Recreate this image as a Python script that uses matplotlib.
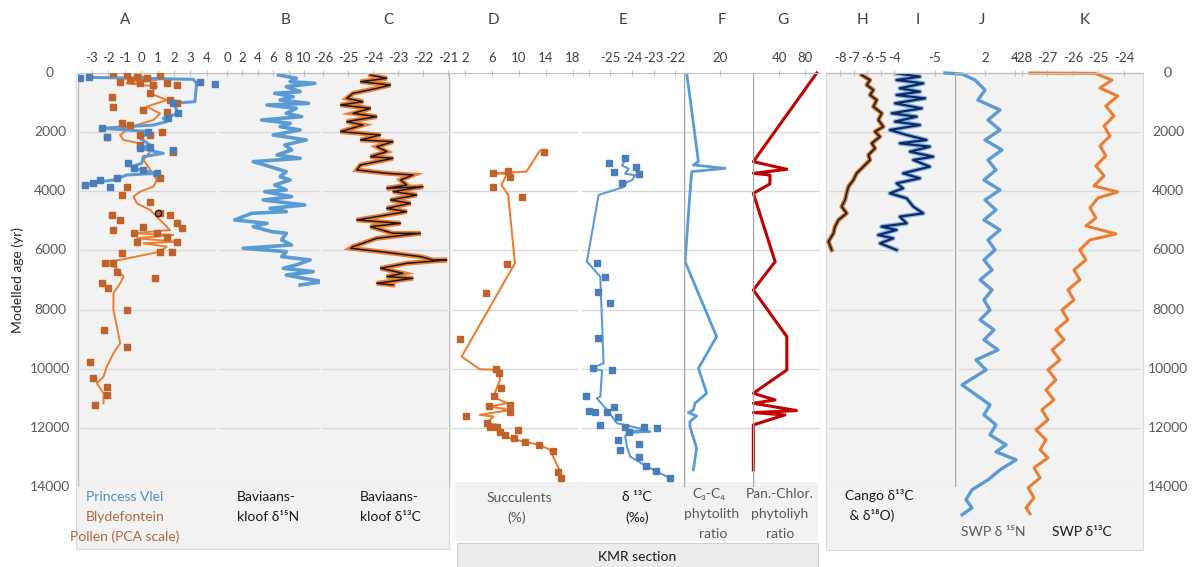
import matplotlib
matplotlib.use("Agg")
import matplotlib.pyplot as plt
from matplotlib.patches import Rectangle

plt.rcParams['font.family'] = ['Lato', 'DejaVu Sans']
plt.rcParams['axes.unicode_minus'] = False

# ---- A: Princess Vlei / Blydefontein pollen (PCA scale) ----
pv_line_age = [147, 214, 349, 969, 1026, 1364, 1533, 1645, 1758, 1871, 1927, 1984, 2209, 2434,
               2547, 2716, 2829, 3054, 3167, 3280, 3392, 3449, 3618, 3674, 3787]
pv_line_val = [-3.19, 3.17, 3.37, 3.27, 1.96, 2.26, 1.35, 1.56, 0.75, -2.38, -0.87, 0.55, -0.06, 0.55,
               -0.06, 1.35, 0.14, 0.04, -0.57, -0.06, 0.95, -0.87, -1.68, -2.48, -3.39]
pv_pts_age = [180, 124, 293, 372, 1026, 1364, 1533, 1871, 2153, 1984, 2491, 2603, 2547, 3392,
              3223, 3561, 3618, 3730, 3787, 3843, 3280, 3054]
pv_pts_val = [-3.70, -3.19, 3.58, 4.48, 1.96, 2.26, 1.66, -2.38, -2.08, 0.44, 0.55, 1.96, -0.06, 0.95,
              -0.46, -1.47, -2.48, -2.89, -3.39, -1.88, 0.14, -0.77]

bf_line_age = [68, 237, 349, 462, 687, 913, 1138, 1364, 1589, 1758, 1927, 2096, 2265, 2378, 2660,
               2941, 3167, 3618, 3843, 4012, 4181, 4407, 4632, 4970, 5308, 5421, 5477, 5590, 5703,
               5759, 5872, 6041, 6322, 6379, 6604, 6886, 7111, 7449, 8013, 8576, 9140, 9478, 9929,
               10267, 10492, 10830, 11168]
bf_line_val = [-0.26, 0.95, -0.87, 0.95, 0.55, 1.56, 0.34, 1.15, 0.75, -0.26, -0.87, -1.27, -1.07,
               -0.06, 0.55, 0.14, 0.44, 0.95, 0.75, -0.06, -0.46, -0.26, 0.55, 1.15, 1.76, -0.46,
               1.96, -0.26, 2.16, 0.14, 1.56, 1.15, -1.27, -2.28, -1.47, -1.07, -1.27, -1.68, -1.68,
               -1.47, -1.27, -1.68, -2.08, -2.28, -2.69, -2.28, -2.28]
bf_pts_age = [11, 68, 124, 68, 293, 180, 349, 406, 349, 237, 406, 800, 1138, 913, 1026, 687, 1251,
              1307, 1702, 1758, 1984, 2153, 2096, 2434, 2096, 2660, 3561, 4125, 3843, 4350, 4801,
              4970, 4745, 4801, 5083, 5252, 5308, 5195, 5421, 5421, 5534, 5703, 5703, 6041, 6041,
              6097, 6435, 6435, 6717, 7111, 7280, 6942, 8013, 8689, 9253, 9760, 10323, 10605,
              10887, 11225]
bf_pts_val = [-1.68, -0.87, -0.26, 1.15, -1.27, 0.34, 1.56, 0.75, -0.06, -0.67, 2.16, -1.78, -1.68,
              1.76, 2.16, 0.55, 0.14, 1.56, -1.17, -0.67, 1.25, -2.08, -0.06, -0.06, 0.55, 1.96,
              1.15, -1.17, -0.87, 0.55, -1.78, -1.27, 1.15, 1.76, 2.16, 2.46, -1.68, 0.14, -0.46,
              0.95, 1.56, 2.16, -0.26, 1.15, 1.86, -1.17, -2.18, -1.68, -1.47, -2.38, -1.98, 0.85,
              -0.87, -2.28, -0.87, -3.09, -2.89, -2.08, -2.08, -2.79]
odd_pt_age = [4745]
odd_pt_val = [1.05]

# ---- B / C: Baviaanskloof d15N and d13C ----
bk_age = [68, 180, 293, 350, 462, 631, 687, 800, 913, 1026, 1082, 1195, 1364, 1476, 1589, 1702,
          1814, 1927, 2096, 2265, 2434, 2603, 2772, 2885, 2998, 3167, 3336, 3505, 3618, 3787,
          3956, 4012, 4181, 4294, 4463, 4576, 4688, 4745, 4970, 5083, 5195, 5365, 5421, 5646,
          5815, 5928, 6041, 6210, 6322, 6491, 6604, 6717, 6830, 6942, 7055, 7168]
bk_d15n = [6.7, 9.0, 8.2, 11.4, 7.7, 9.5, 6.2, 8.6, 6.9, 10.6, 5.2, 9.0, 7.7, 9.7, 4.5, 8.2, 6.9,
           9.5, 6.0, 10.3, 7.5, 8.4, 6.5, 9.5, 3.4, 5.6, 7.7, 6.9, 8.2, 6.2, 7.7, 4.9, 8.4, 4.7,
           10.1, 5.6, 7.7, 3.2, 1.0, 5.2, 3.4, 5.8, 7.7, 7.1, 8.4, 2.1, 7.7, 7.1, 10.8, 9.0, 7.3,
           11.2, 7.7, 9.9, 12.5, 9.5]
bk13_age = [68, 180, 293, 406, 518, 687, 856, 969, 1082, 1195, 1364, 1476, 1645, 1758, 1984, 2096,
            2265, 2322, 2491, 2660, 2829, 2885, 3110, 3280, 3392, 3449, 3618, 3787, 3899, 3843,
            4012, 4125, 4294, 4407, 4576, 4688, 4970, 5083, 5195, 5421, 5421, 5590, 5872, 5928,
            6041, 6210, 6322, 6322, 6435, 6604, 6773, 6886, 6942, 7111, 7168]
bk_d13c = [-24.1, -23.45, -24.5, -23.3, -23.85, -24.8, -25.05, -24.4, -25.3, -24.1, -24.8, -23.85,
           -25.05, -24.4, -25.3, -23.7, -24.5, -23.2, -23.85, -23.45, -24.1, -23.2, -24.5, -24.65,
           -23.45, -22.4, -22.9, -22.65, -23.45, -22.0, -23.2, -22.25, -23.3, -22.5, -23.45,
           -22.65, -24.65, -22.9, -24.1, -23.2, -22.1, -23.85, -24.8, -24.9, -23.7, -22.1, -21.6,
           -21.05, -22.65, -23.7, -22.8, -23.45, -22.4, -23.85, -23.2]

# ---- D / E: KMR section succulents (%) and d13C ----
suc_line_age = [2626, 3336, 3370, 3392, 3415, 3787, 4125, 6435, 9591, 10019, 10041, 10379, 10943,
                11168, 11281, 11393, 11562, 11618, 11844, 11900, 12125, 12351, 12463, 12576,
                12745, 13478, 13703]
suc_line_val = [13.1, 11.1, 8.2, 6.2, 8.2, 7.4, 8.4, 9.4, 1.5, 4.2, 6.9, 7.2, 6.2, 8.2, 5.7, 8.7,
                4.2, 6.2, 5.2, 6.9, 7.2, 8.7, 10.6, 13.1, 14.6, 16.1, 16.3]
suc_pts_age = [2660, 3392, 3302, 3505, 3843, 4181, 6458, 7427, 8982, 10019, 10154, 10661, 10909,
               11224, 11258, 11584, 11449, 11844, 11956, 11956, 12125, 12069, 12238, 12351, 12463,
               12576, 12779, 13478, 13703]
suc_pts_val = [13.7, 6.1, 8.4, 8.6, 6.2, 10.5, 8.2, 5.1, 1.2, 6.6, 7.1, 7.4, 6.3, 8.7, 5.6, 2.2,
               8.7, 5.2, 5.7, 6.7, 7.2, 9.8, 7.9, 9.2, 10.9, 12.9, 15.0, 15.8, 16.2]
kmr13_line_age = [2953, 3122, 3235, 3404, 3460, 3629, 3686, 3855, 4125, 6379, 6886, 9816, 9985,
                  10064, 10943, 11000, 11393, 11844, 12069, 12125, 12125, 12181, 12294, 12632,
                  12970, 13308, 13703]
kmr13_line_val = [-24.31, -24.46, -24.15, -24.31, -23.85, -24.0, -24.23, -24.38, -25.54, -26.08,
                  -25.46, -25.31, -25.85, -25.38, -25.46, -25.62, -25.15, -24.69, -23.31, -24.23,
                  -23.15, -24.23, -24.31, -24.23, -24.08, -23.31, -22.23]
kmr13_pts_age = [3032, 3336, 2885, 3190, 3415, 3730, 4147, 6413, 6886, 7393, 7787, 8971, 9985,
                 10041, 10909, 11415, 11449, 11449, 11900, 11281, 11618, 11956, 11956, 12012,
                 12125, 12407, 12542, 12745, 12970, 13286, 13444, 13703]
kmr13_pts_val = [-25.08, -24.85, -24.31, -23.8, -23.69, -24.46, -26.62, -25.62, -25.23, -25.58,
                 -25.03, -25.57, -25.8, -24.92, -26.11, -26.0, -25.72, -25.15, -25.46, -24.85,
                 -24.62, -24.31, -23.46, -22.85, -24.15, -24.62, -23.69, -24.54, -23.69, -23.34,
                 -22.88, -22.26]

# ---- F / G: phytolith ratios ----
c3c4_age = [0, 2998, 3110, 3223, 3336, 4068, 6379, 8915, 9985, 10830, 11168, 11394, 11484, 11597,
            11788, 11957, 12690, 13422]
c3c4_val = [1.5, 8.0, 5.2, 22.8, 4.3, 3.3, 0.6, 18.1, 8.0, 12.6, 6.1, 5.2, 2.4, 7.0, 3.3, 3.3, 7.0,
            5.2]
panchl_age = [0, 2998, 3257, 3392, 3449, 3753, 4068, 6379, 7337, 8915, 10042, 10830, 11056, 11168,
              11416, 11484, 11563, 11901, 13422]
panchl_val = [98, 0.5, 52, 0.5, 26, 26, 0.5, 34, 0.5, 52, 52, 0.5, 34, 0.5, 67, 0.5, 49, 0.5, 0.5]

# ---- H / I: Cango Caves d13C and d18O ----
cango13_age = [68, 237, 406, 575, 744, 913, 1138, 1364, 1589, 1814, 1984, 2153, 2378, 2547, 2772,
               2941, 3167, 3392, 3618, 3843, 4068, 4294, 4519, 4745, 4970, 5195, 5421, 5703, 5984]
cango13_val = [-6.40, -5.78, -6.02, -5.53, -5.78, -5.28, -5.53, -4.91, -5.16, -4.79, -5.41, -5.04,
               -5.65, -5.41, -5.90, -5.78, -6.27, -6.77, -7.01, -7.38, -7.51, -7.63, -7.88, -7.51,
               -8.12, -8.37, -8.49, -8.86, -8.62]
cango18_age = [11, 124, 237, 349, 518, 631, 744, 856, 1026, 1195, 1364, 1476, 1645, 1758, 1927,
               2096, 2265, 2378, 2491, 2660, 2829, 2941, 3167, 3392, 3561, 3730, 3899, 4068, 4238,
               4519, 4745, 4857, 5083, 5195, 5308, 5477, 5590, 5759, 5984]
cango18_val = [-6.28, -5.5, -6.28, -5.39, -6.17, -5.5, -6.28, -5.33, -6.33, -5.44, -6.44, -5.61,
               -6.33, -5.5, -6.5, -5.94, -5.28, -6.17, -5.17, -5.83, -5.06, -5.72, -5.17, -6.06,
               -5.5, -6.28, -6.06, -6.5, -5.94, -5.72, -5.39, -6.17, -5.94, -6.78, -6.28, -6.89,
               -6.39, -6.83, -6.28]

# ---- J / K: SWP d15N and d13C ----
swp15_age = [0, 34, 237, 575, 913, 1251, 1589, 1927, 2265, 2603, 2941, 3279, 3617, 3955, 4293,
             4631, 4969, 5307, 5645, 5983, 6321, 6659, 6997, 7335, 7673, 8011, 8349, 8687, 9025,
             9363, 9701, 10039, 10546, 10884, 11222, 11560, 11898, 12236, 12574, 12810, 13081,
             13419, 13757, 14095, 14433, 14703, 14940]
swp15_val = [-0.67, 0.47, 1.33, 2.0, 1.53, 3.0, 2.2, 3.0, 2.0, 3.13, 2.2, 2.73, 1.93, 3.0, 2.0,
             2.73, 1.93, 3.0, 2.2, 2.67, 1.93, 2.47, 1.67, 2.47, 1.93, 2.33, 1.67, 2.6, 1.93, 2.87,
             1.4, 2.07, 0.47, 1.4, 2.33, 1.93, 2.73, 2.33, 3.4, 2.73, 4.07, 3.0, 2.2, 1.13, 0.73,
             1.13, 0.47]
swp13_age = [0, 10, 237, 507, 777, 1115, 1453, 1791, 2129, 2467, 2805, 3143, 3481, 3819, 4022,
             4225, 4563, 4901, 5171, 5442, 5645, 5983, 6321, 6659, 6997, 7335, 7673, 8011, 8349,
             8687, 9025, 9363, 9701, 10039, 10377, 10715, 11053, 11391, 11729, 12067, 12405,
             12743, 13013, 13351, 13689, 14027, 14365, 14703, 14906]
swp13_val = [-27.69, -25.14, -24.47, -24.94, -24.24, -24.71, -24.39, -24.78, -24.55, -24.94,
             -24.71, -25.1, -24.78, -25.18, -24.24, -25.02, -25.33, -25.1, -25.49, -24.31, -25.33,
             -25.73, -25.49, -25.96, -25.73, -26.2, -25.96, -26.43, -26.2, -26.67, -26.35, -26.82,
             -26.51, -26.98, -26.67, -27.06, -26.75, -27.22, -26.98, -27.45, -27.06, -27.29,
             -26.98, -27.53, -27.29, -27.76, -27.53, -27.84, -27.69]

age_ticks = [0, 2000, 4000, 6000, 8000, 10000, 12000, 14000]

W, H = 1199, 567
TOP, BOT = 73, 487
GREY_TXT = '#595959'
BLUE = '#5b9bd5'
ORANGE = '#ed7d31'
BROWN = '#c0622a'

fig = plt.figure(figsize=(W / 100, H / 100), dpi=100)


def fx(x):
    return x / W


def fy(y):
    return 1 - y / H


def box(x0, y0, x1, y1, fc, ec='none'):
    fig.add_artist(Rectangle((fx(x0), fy(y1)), (x1 - x0) / W, (y1 - y0) / H,
                             transform=fig.transFigure, fc=fc, ec=ec, lw=0.8, zorder=-5))


def txt(x, y, s, **kw):
    kw.setdefault('fontsize', 10)
    kw.setdefault('ha', 'center')
    kw.setdefault('va', 'center')
    fig.text(fx(x), fy(y), s, **kw)


def panel(x0, x1, xlim, ticks, labels=None, grid=True, gcol='#d9d9d9'):
    ax = fig.add_axes([fx(x0), fy(BOT), (x1 - x0) / W, (BOT - TOP) / H])
    ax.set_xlim(xlim)
    ax.set_ylim(14000, 0)
    ax.patch.set_alpha(0)
    for s in ['left', 'right', 'bottom']:
        ax.spines[s].set_visible(False)
    ax.spines['top'].set_color('#bfbfbf')
    ax.xaxis.tick_top()
    ax.set_xticks(ticks)
    if labels is not None:
        ax.set_xticklabels(labels)
    ax.tick_params(axis='x', direction='inout', length=5, color='#bfbfbf',
                   labelsize=9.5, labelcolor='#404040', pad=4)
    ax.set_yticks([])
    if grid:
        for a in age_ticks[1:]:
            ax.axhline(a, xmin=0.02, xmax=0.98, color=gcol, lw=1, zorder=0)
    return ax


# background boxes
box(76, TOP, 449, 549, '#f2f2f2', '#d9d9d9')
box(826, TOP, 1143, 550, '#f2f2f2', '#d9d9d9')
box(455, 482, 818, 541, '#f2f2f2')
box(457, 543, 818, 567, '#ececec', '#d0d0d0')

# A
ax = panel(78, 218, (-3.83, 4.67), range(-3, 5))
ax.plot(bf_line_val, bf_line_age, color=ORANGE, lw=1.4, zorder=2)
ax.plot(pv_line_val, pv_line_age, color=BLUE, lw=2.2, zorder=3)
ax.plot(bf_pts_val, bf_pts_age, 's', color=BROWN, ms=4, zorder=4)
ax.plot(pv_pts_val, pv_pts_age, 's', color='#4a7ebb', ms=4, zorder=5)
ax.plot(odd_pt_val, odd_pt_age, 'o', mfc='#c0622a', mec='#1a1a1a', ms=4.5, zorder=6)
ax.axvline(-3.83, color='#bfbfbf', lw=1)

# B
ax = panel(218, 320, (-1.17, 12.08), range(0, 11, 2))
ax.plot(bk_d15n, bk_age, color=BLUE, lw=2.6)

# C
ax = panel(320, 449, (-26.12, -20.96), range(-26, -20))
ax.plot(bk_d13c, bk13_age, color=ORANGE, lw=3.5, solid_joinstyle='miter')
ax.plot(bk_d13c, bk13_age, color='#1a1a1a', lw=1.1)

# D
ax = panel(449, 580, (-0.37, 19.04), [2, 6, 10, 14, 18])
ax.plot(suc_line_val, suc_line_age, color=ORANGE, lw=1.5)
ax.plot(suc_pts_val, suc_pts_age, 's', color=BROWN, ms=4)
ax.axvline(-0.37, color='#bfbfbf', lw=1)

# E
ax = panel(580, 684, (-26.4, -21.59), range(-26, -21), ['', '-25', '-24', '-23', '-22'])
ax.plot(kmr13_line_val, kmr13_line_age, color=BLUE, lw=1.5)
ax.plot(kmr13_pts_val, kmr13_pts_age, 's', color='#4a7ebb', ms=4)

# F
ax = panel(684, 753, (0, 38.3), [20])
ax.plot(c3c4_val, c3c4_age, color=BLUE, lw=2)
ax.axvline(0, color='#a6a6a6', lw=1)

# G
ax = panel(753, 820, (0, 103), [40, 80])
ax.plot(panchl_val, panchl_age, color='#c00000', lw=2.2, clip_on=False)
ax.axvline(0, color='#a6a6a6', lw=1)
ax.axvline(103, color='#d9d9d9', lw=1)

# H
ax = panel(826, 955, (-9.04, 0.52), range(-8, -3))
ax.plot(cango13_val, cango13_age, color='#c87a3e', lw=3.2)
ax.plot(cango13_val, cango13_age, color='#2b1a0e', lw=1.2)

# I
ax = panel(826, 955, (-8.63, -4.33), [-5], grid=False)
ax.plot(cango18_val, cango18_age, color='#8db4e2', lw=3.4)
ax.plot(cango18_val, cango18_age, color='#0b2a66', lw=1.6)

# J
ax = panel(955, 1143, (0, 12.53), [2, 4])
ax.plot(swp15_val, swp15_age, color=BLUE, lw=2.4, clip_on=False)
ax.axvline(0, color='#a6a6a6', lw=1)

# K
ax = panel(955, 1143, (-30.63, -23.25), range(-28, -23), grid=False)
ax.plot(swp13_val, swp13_age, color=ORANGE, lw=2.2, clip_on=False)

# age axes, left and right
for a in age_ticks:
    y = TOP + a / 14000 * (BOT - TOP)
    txt(50, y, str(a), color=GREY_TXT)
    txt(1168, y, str(a), color=GREY_TXT)
txt(18, 280, 'Modelled age (yr)', rotation=90, color='#262626')

# panel letters
for letter, x in zip('ABCDEFGHIJK', [125, 286, 388, 493, 623, 722, 783, 862, 918, 982, 1085]):
    txt(x, 20, letter, fontsize=11, color='#404040')

# panel captions
txt(125, 497, 'Princess Vlei', color='#4a90c8')
txt(125, 517, 'Blydefontein', color='#b3693a')
txt(125, 537, 'Pollen (PCA scale)', color='#b3693a')
txt(237, 497, 'Baviaans-', ha='left', color='#1a1a1a')
txt(237, 517, 'kloof δ¹⁵N', ha='left', color='#1a1a1a')
txt(360, 497, 'Baviaans-', ha='left', color='#1a1a1a')
txt(360, 517, 'kloof δ¹³C', ha='left', color='#1a1a1a')
txt(519, 498, 'Succulents', color=GREY_TXT)
txt(517, 518, '(%)', color=GREY_TXT)
txt(637, 497, 'δ ¹³C', color='#1a1a1a')
txt(637, 518, '(‰)', color='#1a1a1a')
txt(709, 494, 'C₃-C₄', color=GREY_TXT)
txt(712, 514, 'phytolith', color=GREY_TXT)
txt(713, 534, 'ratio', color=GREY_TXT)
txt(780, 494, 'Pan.-Chlor.', color=GREY_TXT)
txt(780, 514, 'phytoliyh', color=GREY_TXT)
txt(780, 534, 'ratio', color=GREY_TXT)
txt(637, 557, 'KMR section', color='#1a1a1a')
txt(845, 495, 'Cango δ¹³C', ha='left', color='#1a1a1a')
txt(846, 515, ' & δ¹⁸O)', ha='left', color='#1a1a1a')
txt(993, 532, 'SWP δ ¹⁵N', color=GREY_TXT)
txt(1082, 532, 'SWP δ¹³C', color='#1a1a1a')

fig.savefig('out.png', dpi=100)
